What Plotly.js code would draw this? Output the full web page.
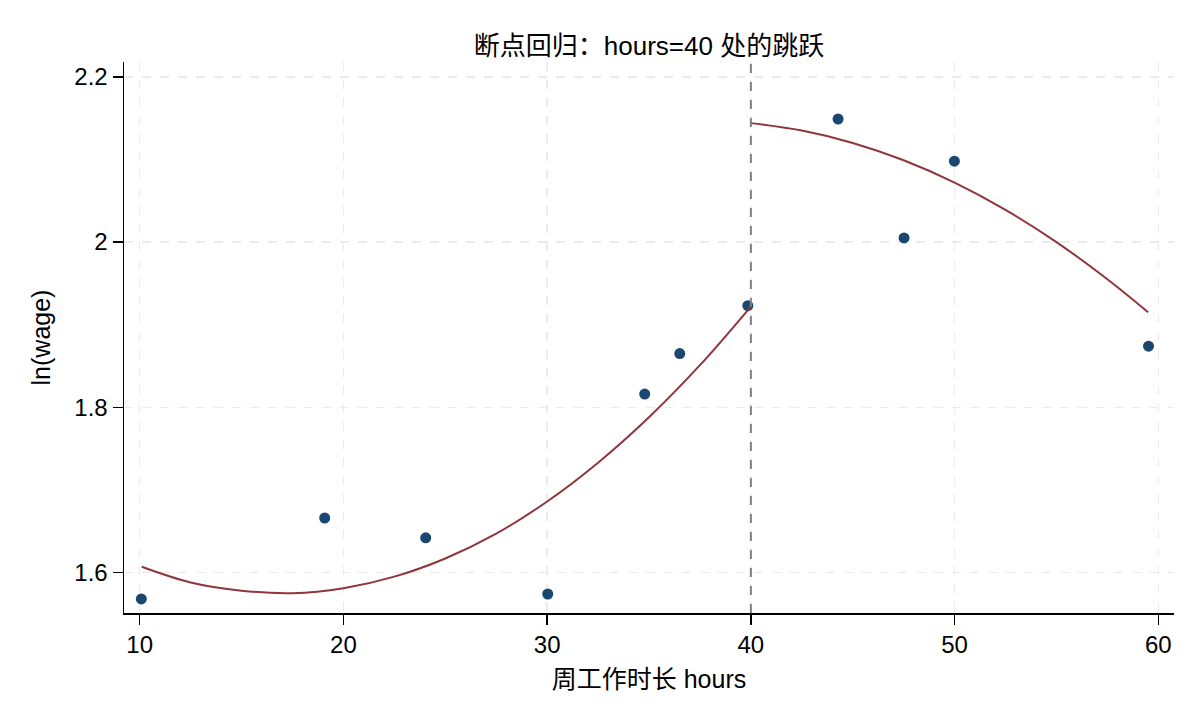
<!DOCTYPE html>
<html>
<head>
<meta charset="utf-8">
<script src="https://cdn.plot.ly/plotly-3.0.1.min.js"></script>
<style>
  html, body { margin: 0; padding: 0; background: #fff; }
  #chart { width: 1200px; height: 720px; }
</style>
</head>
<body>
<div id="chart"></div>
<script>
// binned means
var binHours = [10.08, 19.08, 24.04, 30.03, 34.79, 36.51, 39.85, 44.28, 47.52, 49.99, 59.52];
var binLnWage = [1.568, 1.666, 1.642, 1.574, 1.816, 1.865, 1.923, 2.149, 2.005, 2.098, 1.874];

// fitted curve, left of cutoff
var leftHours = [10.1, 12.5, 15, 17.5, 20, 22.5, 25, 27.5, 30, 32.5, 35, 37.5, 40];
var leftFit = [1.607, 1.588, 1.578, 1.575, 1.581, 1.595, 1.617, 1.647, 1.686, 1.733, 1.788, 1.851, 1.922];

// fitted curve, right of cutoff
var rightHours = [40, 42.5, 45, 47.5, 50, 52.5, 55, 57.5, 59.5];
var rightFit = [2.144, 2.135, 2.120, 2.099, 2.072, 2.039, 2.000, 1.955, 1.915];

var cutoff = 40;
var xTicks = [10, 20, 30, 40, 50, 60];
var yTicks = [1.6, 1.8, 2, 2.2];
var yTickText = ["1.6", "1.8", "2", "2.2"];

var fontFam = "Liberation Sans, Arial, Noto Sans CJK SC, sans-serif";

var traces = [
  {
    x: binHours, y: binLnWage,
    type: "scatter", mode: "markers",
    marker: { color: "#1a476f", size: 11 },
    hoverinfo: "x+y"
  },
  {
    x: leftHours, y: leftFit,
    type: "scatter", mode: "lines",
    line: { color: "#90353b", width: 2, shape: "spline" }
  },
  {
    x: rightHours, y: rightFit,
    type: "scatter", mode: "lines",
    line: { color: "#90353b", width: 2, shape: "spline" }
  }
];

var layout = {
  width: 1200, height: 720,
  showlegend: false,
  paper_bgcolor: "#fff", plot_bgcolor: "#fff",
  margin: { l: 124, r: 26, t: 62, b: 107 },
  font: { family: fontFam, color: "#000", size: 24 },
  title: {
    text: "断点回归：hours=40 处的跳跃",
    font: { family: fontFam, size: 26, color: "#000" },
    x: 0.5, xref: "paper", xanchor: "center",
    y: 1 - 46 / 720, yref: "container", yanchor: "middle"
  },
  xaxis: {
    range: [9.23, 60.77],
    tickvals: xTicks,
    ticks: "outside", ticklen: 10, tickwidth: 1.5, tickcolor: "#000",
    showline: true, linecolor: "#000", linewidth: 1.5,
    showgrid: true, gridcolor: "#ebebeb", gridwidth: 1.5, griddash: "dash",
    zeroline: false,
    tickfont: { size: 24 },
    title: { text: "周工作时长 hours", standoff: 13, font: { size: 25 } }
  },
  yaxis: {
    range: [1.551, 2.218],
    tickvals: yTicks, ticktext: yTickText,
    ticks: "outside", ticklen: 10, tickwidth: 1.5, tickcolor: "#000",
    showline: true, linecolor: "#000", linewidth: 1.5,
    showgrid: true, gridcolor: "#ebebeb", gridwidth: 1.5, griddash: "dash",
    zeroline: false,
    tickfont: { size: 24 },
    title: { text: "ln(wage)", standoff: 16, font: { size: 25 } }
  },
  shapes: [
    {
      type: "line", xref: "x", yref: "paper",
      x0: cutoff, x1: cutoff, y0: 0, y1: 1,
      line: { color: "#808080", width: 2, dash: "dash" }
    }
  ]
};

Plotly.newPlot("chart", traces, layout, { displayModeBar: false, staticPlot: true });
</script>
</body>
</html>
